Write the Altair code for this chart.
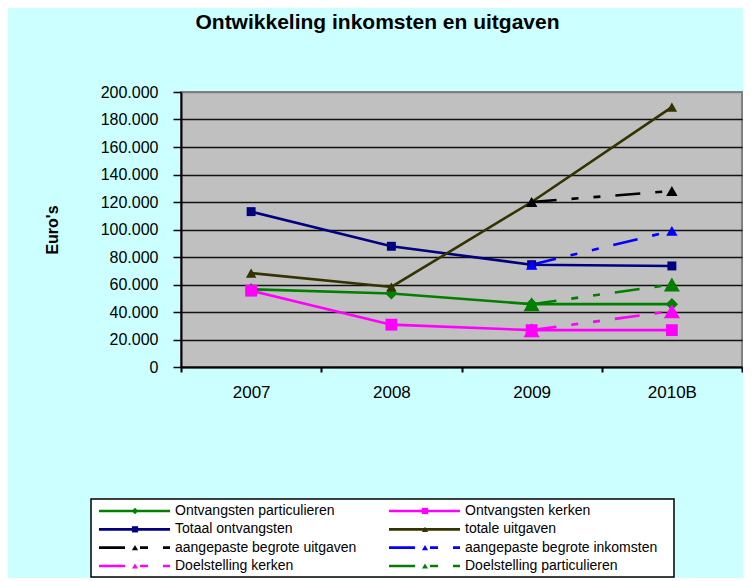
import altair as alt
import pandas as pd

# ---------------- data ----------------
years = ["2007", "2008", "2009", "2010B"]
plan_years = ["2009", "2010B"]
y_ticks = [0, 20000, 40000, 60000, 80000, 100000, 120000, 140000, 160000, 180000, 200000]

ontvangsten_particulieren = [56500, 53500, 45700, 45700]
ontvangsten_kerken = [55500, 30800, 26800, 26800]
totaal_ontvangsten = [113000, 87800, 74400, 73500]
totale_uitgaven = [68300, 58200, 120000, 189000]

aangepaste_begrote_uitgaven = [120000, 128000]
aangepaste_begrote_inkomsten = [74400, 99000]
doelstelling_kerken = [26800, 40600]
doelstelling_particulieren = [45700, 60000]

names = [
    "Ontvangsten particulieren",
    "Ontvangsten kerken",
    "Totaal ontvangsten",
    "totale uitgaven",
    "aangepaste begrote uitgaven",
    "aangepaste begrote inkomsten",
    "Doelstelling kerken",
    "Doelstelling particulieren",
]
series_values = [
    ontvangsten_particulieren,
    ontvangsten_kerken,
    totaal_ontvangsten,
    totale_uitgaven,
    aangepaste_begrote_uitgaven,
    aangepaste_begrote_inkomsten,
    doelstelling_kerken,
    doelstelling_particulieren,
]
series_years = [years, years, years, years, plan_years, plan_years, plan_years, plan_years]
colors = ["#008000", "#FF00FF", "#000080", "#333300", "#000000", "#0000FF", "#FF00FF", "#008000"]
shapes = ["diamond", "square", "square", "triangle-up",
          "triangle-up", "triangle-up", "triangle-up", "triangle-up"]
sizes = [150, 140, 80, 110, 130, 130, 260, 260]
styles = ["solid", "solid", "solid", "solid", "dashed", "dashed", "dashed", "dashed"]
legend_cols = [0, 1, 0, 1, 0, 1, 0, 1]
legend_rows = [0, 0, 1, 1, 2, 2, 3, 3]
legend_sizes = [40, 36, 36, 45, 45, 45, 45, 45]

FONT = "Liberation Sans"
BG = "#CCFFFF"

rows = []
for name, ys, vals in zip(names, series_years, series_values):
    for yr, v in zip(ys, vals):
        rows.append({"series": name, "year": yr, "value": v})
df = pd.DataFrame(rows)

x_enc = alt.X(
    "year:N",
    scale=alt.Scale(type="band", domain=years, paddingInner=0, paddingOuter=0),
    axis=alt.Axis(
        title=None, grid=False, tickBand="extent", labelAngle=0,
        labelFont=FONT, labelFontSize=17, labelColor="black",
        labelPadding=12, tickSize=5, tickColor="black", tickWidth=2,
        domainColor="black", domainWidth=2,
    ),
)
y_enc = alt.Y(
    "value:Q",
    scale=alt.Scale(domain=[0, 200000], nice=False),
    axis=alt.Axis(
        values=y_ticks, title="Euro's", titleFont=FONT, titleFontSize=16,
        titleFontWeight="bold", titleColor="black", titleX=-129, titleY=137.5,
        titleAngle=270, titleAlign="center", titleBaseline="middle",
        labelExpr="replace(format(datum.value, ','), ',', '.')",
        labelFont=FONT, labelFontSize=16, labelColor="black", labelPadding=15,
        tickSize=8, tickColor="black", tickWidth=1.5,
        domainColor="black", domainWidth=2,
        grid=True,
        gridColor={"condition": {"test": "datum.value >= 200000", "value": "#808080"},
                   "value": "#111111"},
        gridWidth=1.3,
    ),
)

base = alt.Chart(df)
plot_layers = []
for i, name in enumerate(names):
    kw = dict(color=colors[i], strokeWidth=2.6)
    if styles[i] == "dashed":
        kw["strokeDash"] = [25, 15, 7, 15, 7, 15]
    plot_layers.append(
        base.transform_filter(alt.datum.series == name)
        .mark_line(**kw)
        .encode(x=x_enc, y=y_enc)
    )
for i, name in enumerate(names):
    plot_layers.append(
        base.transform_filter(alt.datum.series == name)
        .mark_point(filled=True, opacity=1, shape=shapes[i], size=sizes[i], color=colors[i])
        .encode(x=x_enc, y=y_enc)
    )
main = alt.layer(*plot_layers)

# ---------------- legend (drawn below the plot, own scales) ----------------
leg_df = pd.DataFrame({
    "series": names,
    "col": legend_cols,
    "row": legend_rows,
    "style": styles,
})
color_enc = alt.Color("series:N", scale=alt.Scale(domain=names, range=colors), legend=None)
lx = alt.X("col:Q", scale=alt.Scale(domain=[0, 1], range=[-90, 200]), axis=None)
ly = alt.Y("row:Q", scale=alt.Scale(domain=[0, 3], range=[419, 474]), axis=None)
leg_base = alt.Chart(leg_df)

leg_frame = alt.Chart(pd.DataFrame({"box": ["legend"]})).mark_rect(
    fill="white", stroke="black", strokeWidth=1.5
).encode(
    x=alt.value(-90), x2=alt.value(493), y=alt.value(407), y2=alt.value(485)
)
leg_rule = leg_base.mark_rule(strokeWidth=2.7, xOffset=8, x2Offset=79).encode(
    x=lx, x2="col:Q", y=ly, color=color_enc,
    strokeDash=alt.StrokeDash(
        "style:N",
        scale=alt.Scale(domain=["solid", "dashed"], range=[[1, 0], [26, 15, 8, 15, 7]]),
        legend=None,
    ),
)
leg_pts = leg_base.mark_point(filled=True, opacity=1, xOffset=44).encode(
    x=lx, y=ly, color=color_enc,
    shape=alt.Shape("series:N", scale=alt.Scale(domain=names, range=shapes), legend=None),
    size=alt.Size("series:N", scale=alt.Scale(domain=names, range=legend_sizes), legend=None),
)
leg_text = leg_base.mark_text(
    align="left", baseline="middle", xOffset=84, font=FONT, fontSize=14, color="black"
).encode(x=lx, y=ly, text="series:N")

legend = alt.layer(leg_frame, leg_rule, leg_pts, leg_text)

chart = alt.layer(main, legend).resolve_scale(
    x="independent", y="independent"
).properties(
    width=561, height=275,
    view=alt.ViewBackground(fill="#C0C0C0", stroke="#808080", strokeWidth=2),
    title=alt.Title(
        "Ontwikkeling inkomsten en uitgaven", anchor="middle", font=FONT,
        fontSize=21, fontWeight="bold", color="black", offset=51, dx=-84,
    ),
    padding={"left": 36, "top": 4, "right": 0, "bottom": 0},
    background=BG,
).configure_view(stroke="transparent")

chart.save("out.html", embed_options={"renderer": "svg", "actions": False})
